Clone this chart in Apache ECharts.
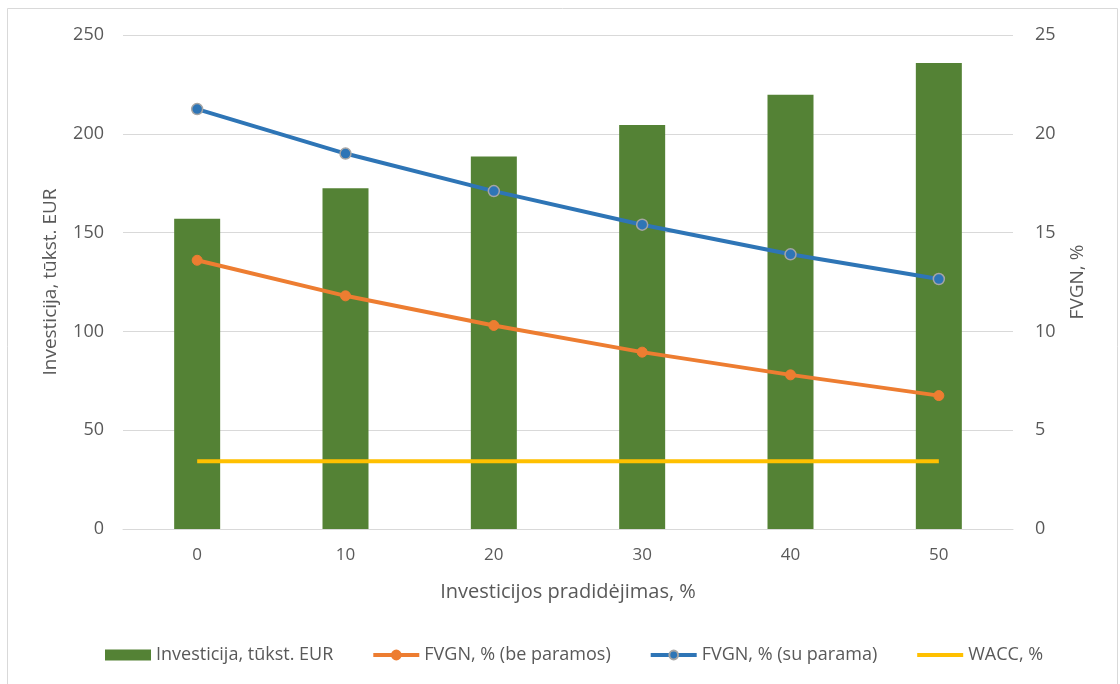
<!DOCTYPE html>
<html>
<head>
<meta charset="utf-8">
<script src="https://cdn.jsdelivr.net/npm/echarts@6/dist/echarts.min.js"></script>
<style>
  html, body { margin: 0; padding: 0; background: #ffffff; }
  #chart { width: 1120px; height: 684px; }
</style>
</head>
<body>
<div id="chart"></div>
<script>
// Investment increase steps (%)
const categories = ['0', '10', '20', '30', '40', '50'];
// Investment, thousand EUR (left axis)
const investicija = [157, 172.5, 188.5, 204.5, 219.8, 235.8];
// FVGN without support, % (right axis)
const fvgnBeParamos = [13.6, 11.8, 10.3, 8.95, 7.8, 6.75];
// FVGN with support, % (right axis)
const fvgnSuParama = [21.25, 19.0, 17.1, 15.4, 13.9, 12.65];
// WACC, % (right axis)
const wacc = [3.43, 3.43, 3.43, 3.43, 3.43, 3.43];

const textColor = '#595959';
const fontFamily = '"Open Sans", "DejaVu Sans", sans-serif';

const chart = echarts.init(document.getElementById('chart'));
chart.setOption({
  animation: false,
  backgroundColor: '#ffffff',
  textStyle: { fontFamily: fontFamily, color: textColor },
  graphic: [{
    type: 'rect',
    shape: { x: 7.5, y: 8.5, width: 1110, height: 690 },
    style: { fill: 'none', stroke: '#d9d9d9', lineWidth: 1 },
    silent: true
  }],
  grid: { left: 123, right: 107, top: 35, bottom: 155 },
  legend: {
    bottom: 15,
    left: 100,
    itemWidth: 46,
    itemHeight: 11,
    itemGap: 38,
    textStyle: { fontSize: 18, color: textColor, fontFamily: fontFamily },
    data: [
      { name: 'Investicija, tūkst. EUR', icon: 'rect', itemStyle: { color: '#548235' } },
      { name: 'FVGN, % (be paramos)', lineStyle: { width: 4 } },
      { name: 'FVGN, % (su parama)', lineStyle: { width: 4 } },
      { name: 'WACC, %', lineStyle: { width: 4 }, itemStyle: { opacity: 0 } }
    ]
  },
  xAxis: {
    type: 'category',
    data: categories,
    name: 'Investicijos pradidėjimas, %',
    nameLocation: 'middle',
    nameGap: 53,
    nameTextStyle: { fontSize: 20, color: textColor },
    axisLine: { show: true, lineStyle: { color: '#d9d9d9', width: 1 } },
    axisTick: { show: false },
    axisLabel: { fontSize: 17, color: textColor, margin: 18 }
  },
  yAxis: [{
    type: 'value',
    min: 0, max: 250, interval: 50,
    name: 'Investicija, tūkst. EUR',
    nameLocation: 'middle',
    nameRotate: 90,
    nameGap: 63,
    nameTextStyle: { fontSize: 19, color: textColor },
    axisLine: { show: false },
    axisTick: { show: false },
    axisLabel: { fontSize: 18, color: textColor, margin: 19 },
    splitLine: { lineStyle: { color: '#d9d9d9', width: 1 } }
  }, {
    type: 'value',
    min: 0, max: 25, interval: 5,
    name: 'FVGN, %',
    nameLocation: 'middle',
    nameRotate: 90,
    nameGap: 55,
    nameTextStyle: { fontSize: 19, color: textColor },
    axisLine: { show: false },
    axisTick: { show: false },
    axisLabel: { fontSize: 18, color: textColor, margin: 22 },
    splitLine: { show: false }
  }],
  series: [{
    name: 'Investicija, tūkst. EUR',
    type: 'bar',
    data: investicija,
    barWidth: 46,
    itemStyle: { color: '#548235' }
  }, {
    name: 'FVGN, % (be paramos)',
    type: 'line',
    yAxisIndex: 1,
    data: fvgnBeParamos,
    symbol: 'circle',
    symbolSize: 10,
    lineStyle: { color: '#ed7d31', width: 4 },
    itemStyle: { color: '#ed7d31', borderColor: '#ed7d31', borderWidth: 1 }
  }, {
    name: 'FVGN, % (su parama)',
    type: 'line',
    yAxisIndex: 1,
    data: fvgnSuParama,
    symbol: 'circle',
    symbolSize: 11,
    lineStyle: { color: '#2e75b6', width: 4 },
    itemStyle: { color: '#2e75b6', borderColor: '#a5a5a5', borderWidth: 1.5 }
  }, {
    name: 'WACC, %',
    type: 'line',
    yAxisIndex: 1,
    data: wacc,
    symbol: 'none',
    lineStyle: { color: '#ffc000', width: 4 },
    itemStyle: { color: '#ffc000' }
  }]
});
</script>
</body>
</html>
